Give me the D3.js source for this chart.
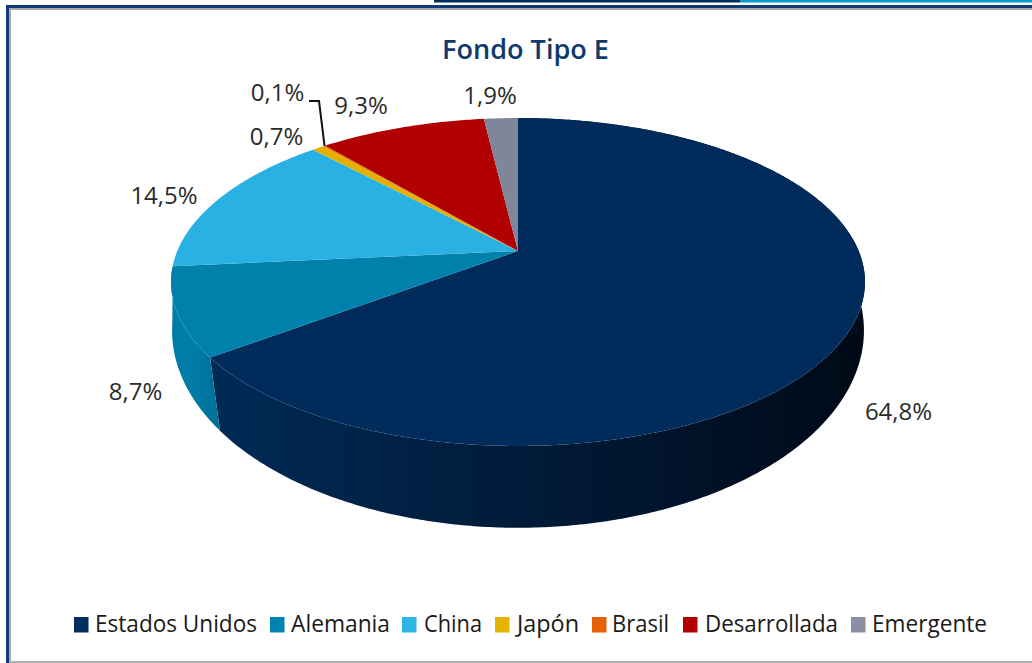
<!DOCTYPE html>
<html><head><meta charset="utf-8">
<script src="https://cdn.jsdelivr.net/npm/d3@7/dist/d3.min.js"></script>
<style>html,body{margin:0;padding:0;background:#fff;overflow:hidden}svg{display:block}text{font-family:"Open Sans","Noto Sans",sans-serif}</style>
</head><body><svg id="c" width="1032" height="663"></svg>
<script>
const title = "Fondo Tipo E";
const categories = ["Estados Unidos","Alemania","China","Japón","Brasil","Desarrollada","Emergente"];
const values = [64.8,8.7,14.5,0.7,0.1,9.3,1.9];
const labels = ["64,8%","8,7%","14,5%","0,7%","0,1%","9,3%","1,9%"];
const topColors = ["#002b5b","#0081ac","#2ab1e3","#e5b000","#e65f00","#b00000","#808699"];
const legendColors = ["#002f5f","#0083ae","#2db5e6","#e6b400","#e65f00","#b30000","#8a8fa3"];
const legendBoxX = [74,270,402,495,592,683,851];
const legendTextX = [95,291,424,517,612,705,872];
const legendTextW = [162,99,58,62,57,133,115];
const labelX = [898.5,135.5,164,276.5,277.5,361,490];
const labelY = [420,400,204,145,101,114,104];

const svg = d3.select("#c");
const defs = svg.append("defs");
const W = 1032, H = 663;

// frame
svg.append("rect").attr("x",434).attr("y",0).attr("width",306).attr("height",2.5).attr("fill","#002f5f");
svg.append("rect").attr("x",740).attr("y",0).attr("width",292).attr("height",2.5).attr("fill","#0a9ccb");
svg.append("rect").attr("x",6).attr("y",5).attr("width",W-6).attr("height",3).attr("fill","#0f3a78");
svg.append("rect").attr("x",6).attr("y",5).attr("width",3).attr("height",H-5).attr("fill","#0f3a78");
svg.append("rect").attr("x",9).attr("y",8).attr("width",W-9).attr("height",2).attr("fill","#a8a8a8");
svg.append("rect").attr("x",9).attr("y",8).attr("width",2).attr("height",H-8).attr("fill","#a8a8a8");
svg.append("rect").attr("x",9).attr("y",661).attr("width",W-9).attr("height",2).attr("fill","#b0b0b0");

// title
svg.append("text").attr("x",525.5).attr("y",59).attr("text-anchor","middle")
  .attr("font-size",27).attr("font-weight",600).attr("fill","#0f3a6e")
  .attr("textLength",167).attr("lengthAdjust","spacingAndGlyphs").text(title);

// projection of the disc: homographies through linear scales, one for each rim
const topRim = {k:-0.189,
  x:d3.scaleLinear().domain([-1,1]).range([518-340.7,518+340.7]),
  y:d3.scaleLinear().domain([-1,1]).range([251-158.1,251+158.1])};
const botRim = {k:-0.13,
  x:d3.scaleLinear().domain([-1,1]).range([518-343,518+343]),
  y:d3.scaleLinear().domain([-1,1]).range([305-193.8,305+193.8])};
function rim(a, r){
  const u = Math.sin(a), v = -Math.cos(a), w = 1+r.k*v;
  return [r.x(u/w), r.y(v/w)];
}
const pie = d3.pie().sort(null).value(d=>d)(values);
const line = d3.line();
const samples = (a0,a1)=>{const n=Math.max(2,Math.ceil((a1-a0)/0.01));return d3.range(n+1).map(i=>a0+(a1-a0)*i/n);};

const wallGrad = [["w0","#002a55","#001a38","#000a18"],["w1","#007ca6","#007ca6","#006f95"]];
wallGrad.forEach(g=>{
  const lg = defs.append("linearGradient").attr("id",g[0]).attr("gradientUnits","userSpaceOnUse")
    .attr("x1",215).attr("x2",860).attr("y1",0).attr("y2",0);
  if(g[0]==="w1"){lg.attr("x1",172).attr("x2",218);}
  lg.append("stop").attr("offset",0).attr("stop-color",g[1]);
  lg.append("stop").attr("offset",0.5).attr("stop-color",g[2]);
  lg.append("stop").attr("offset",1).attr("stop-color",g[3]);
});

// walls: only the two slices on the near side show one
pie.slice(0,2).forEach((p,i)=>{
  const s = samples(p.startAngle,p.endAngle);
  const pts = s.map(a=>rim(a,topRim)).concat(s.slice().reverse().map(a=>rim(a,botRim)));
  svg.append("path").attr("d",line(pts)+"Z").attr("fill", i===0?"url(#w0)":"url(#w1)");
});
// tops
pie.forEach((p,i)=>{
  const pts = [[518,251]].concat(samples(p.startAngle,p.endAngle).map(a=>rim(a,topRim)));
  svg.append("path").attr("d",line(pts)+"Z").attr("fill",topColors[i]);
});

// leader line for Brasil
const bm = (pie[4].startAngle+pie[4].endAngle)/2, bp = rim(bm,topRim);
svg.append("path").attr("d",line([[309,101],[319,101],bp])).attr("fill","none").attr("stroke","#111").attr("stroke-width",2);

// data labels
labels.forEach((t,i)=>{
  svg.append("text").attr("x",labelX[i]).attr("y",labelY[i]).attr("text-anchor","middle")
    .attr("font-size",24).attr("fill","#2b2b2b").text(t);
});

// legend
categories.forEach((c,i)=>{
  svg.append("rect").attr("x",legendBoxX[i]).attr("y",617).attr("width",14.5).attr("height",15.5).attr("fill",legendColors[i]);
  svg.append("text").attr("x",legendTextX[i]).attr("y",632).attr("font-size",24).attr("fill","#1a1a1a")
    .attr("textLength",legendTextW[i]).attr("lengthAdjust","spacingAndGlyphs").text(c);
});
</script></body></html>
